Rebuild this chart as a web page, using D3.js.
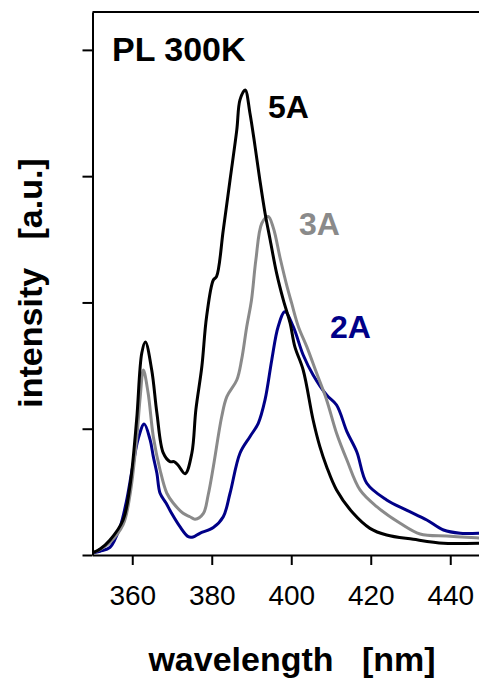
<!DOCTYPE html>
<html>
<head>
<meta charset="utf-8">
<script src="https://cdn.jsdelivr.net/npm/d3@7"></script>
<style>
  html, body { margin: 0; padding: 0; background: #fff; overflow: hidden; }
  svg { display: block; }
  text { font-family: "Liberation Sans", Arial, Helvetica, sans-serif; }
</style>
</head>
<body>
<svg id="chart" width="479" height="680"></svg>
<script>
// Photoluminescence spectra at 300 K, intensity in arbitrary units.
const xTicks = [360, 380, 400, 420, 440];
const yTicks = [0, 1, 2, 3, 4];

const wl5A = [350, 352, 354.4, 357.7, 359.4, 361.1, 362.4, 363.3, 364.9, 366.2, 367.8, 369.5, 370.5, 371.5, 373.3,
  375.0, 376.0, 377.5, 378.7, 380.4, 381.2, 382.9, 384.6, 386.3, 387.1, 388.4, 389.6, 390.9, 392.1, 393.4,
  394.7, 396.3, 398.0, 399.7, 400.9, 403.0, 405.5, 407.2, 408.9, 411.4, 415.6, 419.8, 424.0, 430.7, 438.3, 444, 450];
const int5A = [0.016, 0.05, 0.119, 0.277, 0.541, 1.069, 1.600, 1.687, 1.465, 1.125, 0.808, 0.739, 0.739, 0.713, 0.644,
  0.808, 1.149, 1.491, 1.887, 2.178, 2.204, 2.574, 2.970, 3.366, 3.604, 3.683, 3.501, 3.234, 2.970, 2.709,
  2.495, 2.234, 2.020, 1.838, 1.650, 1.465, 1.069, 0.858, 0.699, 0.515, 0.330, 0.211, 0.158, 0.124, 0.093, 0.092, 0.095];

const wl3A = [350, 352, 354.4, 357.7, 359.4, 361.1, 362.0, 362.8, 364.0, 365.3, 367.0, 368.7, 370.3, 372.8, 374.5,
  375.8, 377.9, 379.1, 380.4, 382.5, 383.8, 386.3, 387.5, 388.8, 390.0, 391.1, 392.6, 394.2, 395.5, 397.2,
  398.9, 400.1, 401.8, 403.9, 406.4, 408.9, 411.4, 414.0, 417.3, 421.5, 427.4, 432.4, 439.1, 444, 450];
const int3A = [0.016, 0.045, 0.10, 0.24, 0.47, 0.92, 1.25, 1.465, 1.281, 0.937, 0.673, 0.489, 0.412, 0.330, 0.303,
  0.283, 0.330, 0.475, 0.699, 1.095, 1.254, 1.386, 1.545, 1.808, 2.020, 2.337, 2.627, 2.680, 2.590, 2.352,
  2.131, 1.994, 1.808, 1.650, 1.439, 1.228, 0.964, 0.752, 0.515, 0.383, 0.251, 0.166, 0.150, 0.140, 0.131];

const wl2A = [350, 351.9, 354.4, 356.9, 358.5, 360.0, 361.5, 363.0, 364.5, 365.3, 366.2, 367.0, 368.5, 369.9, 372.0, 374.1,
  375.3, 377.0, 380.4, 382.9, 384.6, 387.1, 389.6, 391.7, 393.4, 395.1, 396.7, 398.4, 400.5, 403.0, 405.5,
  408.9, 411.4, 414.0, 416.5, 419.0, 424.0, 429.0, 434.1, 438.3, 442.5, 447.2, 450];
const int2A = [0.016, 0.03, 0.06, 0.22, 0.42, 0.68, 0.92, 1.038, 0.911, 0.779, 0.647, 0.489, 0.412, 0.330, 0.224, 0.145,
  0.143, 0.172, 0.218, 0.303, 0.489, 0.806, 0.937, 1.043, 1.228, 1.545, 1.808, 1.927, 1.808, 1.584, 1.426,
  1.267, 1.188, 0.977, 0.816, 0.568, 0.436, 0.356, 0.277, 0.198, 0.172, 0.172, 0.170];

const seriesNames = ["2A", "3A", "5A"];
const seriesColors = ["#000088", "#8a8a8a", "#000000"];

const series = [
  { name: seriesNames[0], color: seriesColors[0], points: wl2A.map((w, i) => [w, int2A[i]]), label: [330, 338] },
  { name: seriesNames[1], color: seriesColors[1], points: wl3A.map((w, i) => [w, int3A[i]]), label: [299, 235] },
  { name: seriesNames[2], color: seriesColors[2], points: wl5A.map((w, i) => [w, int5A[i]]), label: [268, 118] }
];

const svg = d3.select("#chart");
const plot = { left: 92.5, right: 490, top: 12, bottom: 555 };

const x = d3.scaleLinear().domain([350, 450]).range([plot.left, plot.right]);
const y = d3.scaleLinear().domain([0, 4.3]).range([plot.bottom, plot.top]);

// plot frame: top border
svg.append("line")
  .attr("x1", plot.left).attr("x2", plot.right)
  .attr("y1", plot.top).attr("y2", plot.top)
  .attr("stroke", "#000").attr("stroke-width", 2);

// spectra
const line = d3.line()
  .x(d => x(d[0]))
  .y(d => y(d[1]))
  .curve(d3.curveCatmullRom.alpha(0.5));

svg.append("g").selectAll("path")
  .data(series)
  .join("path")
  .attr("d", d => line(d.points))
  .attr("fill", "none")
  .attr("stroke", d => d.color)
  .attr("stroke-width", 3)
  .attr("stroke-linejoin", "round");

// axes
const xAxis = svg.append("g")
  .attr("transform", `translate(0,${plot.bottom})`)
  .call(d3.axisBottom(x).tickValues(xTicks).tickSize(10).tickSizeOuter(0).tickPadding(20));
xAxis.select(".domain").attr("stroke-width", 2);
xAxis.selectAll(".tick line").attr("stroke-width", 2);
xAxis.selectAll(".tick text")
  .attr("font-size", 28)
  .attr("font-family", "'Liberation Sans', Arial, sans-serif")
  .attr("fill", "#000");

const yAxis = svg.append("g")
  .attr("transform", `translate(${plot.left},0)`)
  .call(d3.axisLeft(y).tickValues(yTicks).tickSize(10).tickSizeOuter(0).tickFormat(""));
yAxis.select(".domain").attr("stroke-width", 2);
yAxis.selectAll(".tick line").attr("stroke-width", 2);

// series labels
svg.append("g").selectAll("text")
  .data(series)
  .join("text")
  .attr("x", d => d.label[0])
  .attr("y", d => d.label[1])
  .attr("fill", d => d.color)
  .attr("font-size", 32)
  .attr("font-weight", "bold")
  .text(d => d.name);

// title inside the plot
svg.append("text")
  .attr("x", 112).attr("y", 61)
  .attr("font-size", 34).attr("font-weight", "bold")
  .text("PL 300K");

// axis titles
svg.append("text")
  .attr("x", 292).attr("y", 671)
  .attr("text-anchor", "middle")
  .attr("font-size", 34).attr("font-weight", "bold")
  .style("white-space", "pre")
  .text("wavelength   [nm]");

svg.append("text")
  .attr("transform", "translate(42,283) rotate(-90)")
  .attr("text-anchor", "middle")
  .attr("font-size", 34).attr("font-weight", "bold")
  .style("white-space", "pre")
  .text("intensity   [a.u.]");
</script>
</body>
</html>
